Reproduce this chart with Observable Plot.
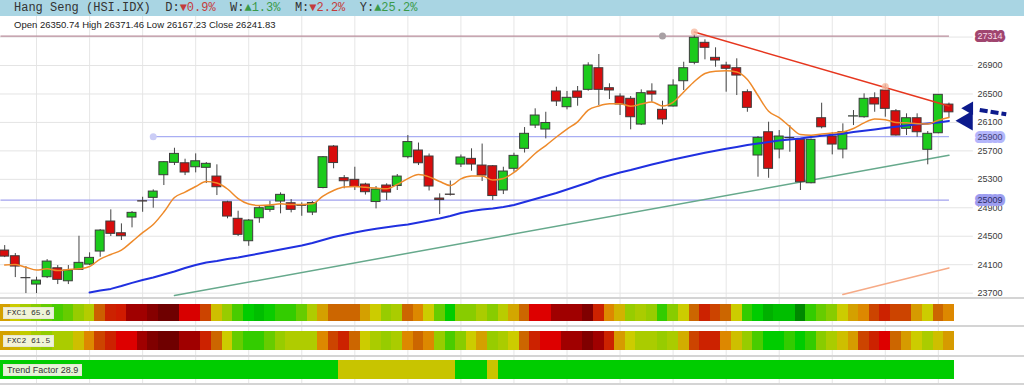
<!DOCTYPE html>
<html><head><meta charset="utf-8">
<script src="https://cdn.jsdelivr.net/npm/d3@7"></script>
<script src="https://cdn.jsdelivr.net/npm/@observablehq/plot@0.6"></script>
<style>
html,body{margin:0;padding:0;background:#fff;}
body{width:1024px;height:385px;overflow:hidden;font-family:"Liberation Sans",Arial,sans-serif;}
#header{height:16px;background:#a9d5e3;font:12px "Liberation Mono",monospace;color:#333;line-height:16px;padding-left:14px;white-space:pre;}
.dn{color:#c43c3c}.up{color:#3a9a4a}
#main{position:relative;height:281px;}
#main svg{display:block;}
#ohlc{position:absolute;left:14px;top:3px;font-size:9.5px;color:#222;z-index:2;white-space:pre;}
.row{position:relative;border-top:2px solid #d4d4d4;}
.row svg{display:block;}
.lbl{position:absolute;left:3px;background:rgba(246,246,230,0.93);border:1px solid #e6e6d6;color:#333;padding:0 3px;line-height:10px;height:10px;z-index:2;white-space:pre;}
.mono{font:8px "Liberation Mono",monospace;}
.sans{font:9px "Liberation Sans",Arial,sans-serif;}
</style></head>
<body>
<div id="header">Hang Seng (HSI.IDX)  D:<span class="dn">▼0.9%</span>  W:<span class="up">▲1.3%</span>  M:<span class="dn">▼2.2%</span>  Y:<span class="up">▲25.2%</span></div>
<div id="main"><div id="ohlc">Open 26350.74 High 26371.46 Low 26167.23 Close 26241.83</div></div>
<div class="row" id="r1" style="height:26px"><div class="lbl mono" style="top:8px">FXC1 65.6</div></div>
<div class="row" id="r2" style="height:28px"><div class="lbl mono" style="top:8px">FXC2 61.5</div></div>
<div class="row" id="r3" style="height:26px"><div class="lbl sans" style="top:7px">Trend Factor 28.9</div></div>
<div style="border-top:2px solid #d4d4d4"></div>
<script>
// ---- candle data (index = trading day) ----
const open = [24299,24219,23912,23821,23924,24050,23867,24027,24102,24285,
24707,24542,24763,24992,25040,25358,25532,25526,25470,25462,
25339,24978,24745,24430,24753,24871,24988,24964,24936,24833,
25178,25761,25316,25293,25227,24981,25213,25206,25611,25705,
25621,25030,25086,25508,25588,25494,25484,25143,25448,25729,
26056,26000,26535,26314,26535,26558,26862,26581,26464,26432,
26070,26535,26277,26324,26679,26938,27219,27008,26900,26862,
26525,25635,25962,25719,25881,25855,25245,26159,25902,25719,
26183,26173,26440,26549,26257,26010,26159,25715,25948,26350.74];
const high = [24369,24257,24074,23924,24172,24088,24088,24500,24267,24594,
24871,24674,24847,25048,25152,25550,25737,25583,25658,25536,
25504,24992,24852,24735,24932,24992,25110,25016,24970,24988,
25621,25775,25353,25470,25245,25199,25237,25368,25916,25810,
25656,25096,25276,25642,25729,25796,25494,25470,25667,26028,
26291,26243,26595,26535,26605,26938,27055,26643,26502,26464,
26558,26643,26398,26699,26946,27330,27261,27149,26946,26994,
26558,25902,26103,25986,26056,25867,25867,26370,25954,26080,
26267,26502,26516,26629,26281,26221,26221,25972,26492,26371.46];
const low = [24200,23919,23694,23694,23905,23821,23821,24018,24088,24205,
24496,24440,24618,24837,24894,25213,25494,25353,25391,25241,
25072,24745,24496,24359,24683,24837,24815,24829,24781,24791,
25167,25448,25167,25143,25079,24885,25002,25143,25588,25494,
25136,24805,25065,25466,25414,25269,25002,25086,25400,25670,
26014,25869,26324,26277,26328,26539,26338,26422,26197,25996,
26056,26384,26066,26317,26548,26910,26980,26876,26525,26478,
26243,25330,25315,25588,25681,25143,25237,26010,25644,25588,
26056,26159,26243,26173,25909,25916,25892,25504,25940,26167.23];
const close = [24214,24074,23910,23877,24144,23887,24018,24126,24196,24580,
24534,24500,24829,24988,25128,25541,25658,25396,25554,25518,
25189,24777,24520,24721,24894,24918,25082,24871,24928,24967,
25611,25529,25273,25192,25119,25157,25114,25339,25824,25526,
25199,25009,25082,25607,25508,25353,25065,25410,25630,25940,
26197,26092,26394,26446,26446,26900,26558,26549,26352,26173,
26511,26492,26141,26619,26862,27289,27149,26970,26854,26759,
26305,25883,25448,25902,25878,25259,25855,26032,25789,25962,
26186,26432,26352,26291,25916,26159,25962,25940,26488,26241.83];

// short moving average (orange), days 0..89
const maShort = [24095,24102,24064,24025,24042,24018,24032,24042,24074,24179,
24243,24306,24425,24552,24665,24840,25044,25121,25199,25269,
25248,25164,25030,24953,24932,24939,24956,24946,24946,24956,
25065,25143,25192,25199,25188,25178,25166,25227,25311,25368,
25335,25269,25213,25307,25346,25346,25290,25311,25396,25522,
25663,25775,25895,26007,26108,26274,26331,26361,26361,26328,
26359,26387,26331,26383,26527,26675,26788,26821,26825,26809,
26703,26478,26256,26166,26042,25930,25921,25937,25951,25966,
26014,26094,26148,26138,26099,26094,26080,26078,26131,26169];
// long moving average (blue), days 8..89
const maLongStart = 8;
const maLong = [23708,23737,23760,23800,23845,23884,23919,23962,24004,24053,
24095,24130,24151,24179,24201,24229,24257,24285,24313,24341,
24369,24404,24447,24489,24520,24552,24580,24604,24627,24646,
24665,24693,24721,24749,24784,24826,24854,24875,24889,24911,
24939,24981,25023,25065,25107,25157,25206,25255,25311,25353,
25396,25431,25470,25508,25543,25578,25611,25642,25673,25702,
25729,25754,25782,25803,25824,25846,25860,25874,25895,25912,
25927,25940,25965,25982,26000,26021,26038,26056,26073,26085,
26099,26120];

// trend lines and levels
const greenTrend = [{i:16, v:23666}, {i:89, v:25640}];
const redTrend = [{i:65, v:27371}, {i:89, v:26331}];
const redTrendPts = [{i:65, v:27371}, {i:83, v:26605}];
const salmonTrend = [{i:79, v:23680}, {i:89, v:24053}];
const levels = [
  {name:"27314", v:27314, from:-0.4, to:89, line:"#b98d9b", bg:"#a0456f", fg:"#f7dde8"},
  {name:"25900", v:25900, from:14, to:89, line:"#a9aef3", bg:"#b4b6fb", fg:"#44447a"},
  {name:"25009", v:25009, from:-0.4, to:89, line:"#a2a2ee", bg:"#9d9df0", fg:"#2e2e66"}
];
const levelMarks = [{i:62, v:27314, c:"#a8a0a4"}, {i:14, v:25900, c:"#cbcdf6"}];

// axis
const yTicks = [23700,24100,24500,24900,25300,25700,26100,26500,26900];
const gridY = [23700,24100,24500,24900,25300,25700,26100,26500,26900,27300];
const gridIdx = [3,8,13,18,23,28,33,38,43,48,53,58,63,68,73,78,83,88];

// oscillator heat rows (0 = deep red ... 100 = deep green)
const fxc1 = [55,62,70,76,80,84,80,73,67,44,
34,33,18,18,10,3,3,29,29,40,
60,73,84,92,94,91,87,87,80,68,
55,45,45,45,55,62,73,69,45,50,
62,80,92,76,76,69,76,66,56,45,
30,30,18,18,18,8,34,50,58,73,
69,73,87,76,62,45,34,40,45,62,
87,92,96,94,94,100,87,80,76,62,
55,50,40,34,40,40,54,62,45,50];
const fxc2 = [55,58,64,70,74,69,69,60,50,40,
34,30,30,18,8,3,3,18,18,34,
45,62,80,87,87,80,73,68,68,68,
50,40,34,45,62,69,73,69,50,45,
50,73,84,76,62,55,73,69,62,45,
34,30,30,18,18,8,18,34,54,62,
69,69,73,69,57,40,34,34,50,60,
73,84,92,92,87,92,87,76,69,60,
54,40,34,30,45,54,62,69,60,54];
const trend = [1,1,1,1,1,1,1,1,1,1, 1,1,1,1,1,1,1,1,1,1,
1,1,1,1,1,1,1,1,1,1, 1,1,0,0,0,0,0,0,0,0,
0,0,0,1,1,1,0,1,1,1, 1,1,1,1,1,1,1,1,1,1,
1,1,1,1,1,1,1,1,1,1, 1,1,1,1,1,1,1,1,1,1,
1,1,1,1,1,1,1,1,1,1];
const heatStops = [0,8,18,30,34,40,45,50,55,62,69,76,80,87,92,96,100];
const heatColors = ["#640000","#800000","#a00000","#dd0000","#cc2200","#cc4400","#cc6600","#dd8800","#d4a000","#cccc00","#aacc00","#88cc00","#66cc00","#33cc00","#00cc00","#00b000","#008800"];
const trendColors = {1:"#00cc00", 0:"#c8c400"};

// arrows at the right edge
const arrowDashHead = [{i:90.9, v:26300}];
const arrowSolidHead = [{i:90.7, v:26125}];
const arrowDash = [{i1:91.9, i2:94.4, v1:26275, v2:26215}];

// ---------- build ----------
const candles = open.map((o, i) => ({i, open:o, high:high[i], low:low[i], close:close[i]}));
const shortData = maShort.map((v, i) => ({i, v}));
const longData = maLong.map((v, k) => ({i: k + maLongStart, v}));
const xDomain = [-0.396, 96.12];

const main = Plot.plot({
  width: 1024, height: 281, margin: 0,
  x: {domain: xDomain, axis: null},
  y: {domain: [23639, 27589], axis: null},
  color: {type: "identity"},
  style: {fontFamily: "'Liberation Sans', Arial, sans-serif", fontSize: "9px", background: "transparent", overflow: "visible"},
  marks: [
    Plot.ruleX(gridIdx, {stroke: "#e6e6e6"}),
    Plot.ruleY(gridY, {x1: -0.4, x2: 91.3, stroke: "#e4e4e4"}),
    Plot.link(levels, {x1: "from", x2: "to", y1: "v", y2: "v", stroke: "line", strokeWidth: 1.3}),
    Plot.dot(levelMarks, {x: "i", y: "v", r: 3.5, fill: "c", stroke: "none"}),
    Plot.line(greenTrend, {x: "i", y: "v", stroke: "#66a98c", strokeWidth: 1.5, clip: true}),
    Plot.line(salmonTrend, {x: "i", y: "v", stroke: "#f6aa86", strokeWidth: 1.5, clip: true}),
    Plot.ruleX(candles, {x: "i", y1: "low", y2: "high", stroke: "#444", strokeWidth: 1}),
    Plot.rect(candles, {x1: d => d.i - 0.42, x2: d => d.i + 0.42, y1: "open", y2: "close",
      fill: d => d.close > d.open ? "#1ccb1c" : "#d80c0c", stroke: "#3c3c3c", strokeWidth: 1}),
    Plot.line(longData, {x: "i", y: "v", stroke: "#2030e0", strokeWidth: 2, clip: true}),
    Plot.line(shortData, {x: "i", y: "v", stroke: "#ee8a2a", strokeWidth: 1.5, curve: "monotone-x", clip: true}),
    Plot.line(redTrend, {x: "i", y: "v", stroke: "#e6361e", strokeWidth: 1.5}),
    Plot.dot(redTrendPts, {x: "i", y: "v", r: 3.5, fill: "#f6b9a0", fillOpacity: 0.8}),
    Plot.text(yTicks, {x: 91.69, y: d => d, text: d => String(d), textAnchor: "start", fill: "#3a3a3a", fontSize: 9}),
    Plot.text(levels, {x: 91.69, y: "v", text: "name", textAnchor: "start", fill: "fg", stroke: "bg", strokeWidth: 6, strokeLinejoin: "round", fontSize: 9}),
    Plot.link(arrowDash, {x1: "i1", x2: "i2", y1: "v1", y2: "v2", stroke: "#0c1a8c", strokeWidth: 4, strokeDasharray: "8,3"}),
    Plot.dot(arrowDashHead, {x: "i", y: "v", r: 6.5, symbol: "triangle2", rotate: -90, fill: "#0c1a8c"}),
    Plot.dot(arrowSolidHead, {x: "i", y: "v", r: 9.5, symbol: "triangle2", rotate: -90, fill: "#0c1a8c"})
  ]
});
document.getElementById("main").appendChild(main);

const heat = d3.scaleLinear().domain(heatStops).range(heatColors);
function heatRow(id, h, values, colorOf, insetTop, insetBottom) {
  const data = values.map((v, i) => ({i, v}));
  const el = Plot.plot({
    width: 1024, height: h, margin: 0,
    x: {domain: xDomain, axis: null},
    color: {type: "identity"},
    marks: [
      Plot.ruleX(gridIdx, {stroke: "#e6e6e6"}),
      Plot.rect(data, {x1: d => d.i - 0.5, x2: d => d.i + 0.5, fill: d => colorOf(d.v),
        insetTop, insetBottom, shapeRendering: "crispEdges"})
    ]
  });
  document.getElementById(id).appendChild(el);
}
heatRow("r1", 26, fxc1, v => heat(v), 5, 4);
heatRow("r2", 28, fxc2, v => heat(v), 4, 5);
heatRow("r3", 26, trend, v => trendColors[v], 3, 4);
</script>
</body></html>
